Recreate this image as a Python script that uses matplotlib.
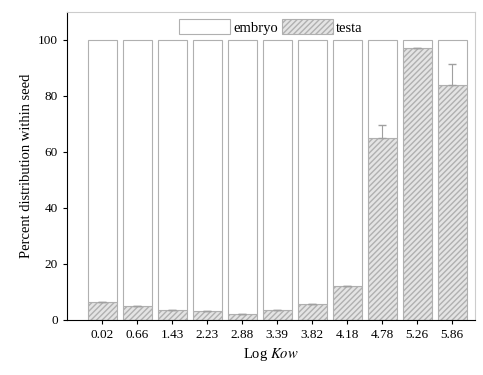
import numpy as np
import matplotlib.pyplot as plt

plt.rcParams['font.family'] = ['Liberation Serif', 'DejaVu Serif']
plt.rcParams['mathtext.fontset'] = 'stix'
plt.rcParams['hatch.color'] = '#b8b8b8'

log_kow = ['0.02', '0.66', '1.43', '2.23', '2.88', '3.39', '3.82', '4.18', '4.78', '5.26', '5.86']
testa = [6.3, 5.0, 3.5, 3.0, 2.0, 3.5, 5.5, 12.0, 65.0, 97.0, 84.0]
testa_err = [0, 0, 0, 0, 0, 0, 0, 0, 4.5, 0, 7.5]
embryo = [100 - t for t in testa]

fig = plt.figure(figsize=(4.83, 3.75), dpi=100)
ax = fig.add_axes([0.139, 0.147, 0.844, 0.821])

x = np.arange(len(log_kow))
w = 0.83
ax.bar(x, testa, w, color='#e4e4e4', edgecolor='#b0b0b0', hatch='//////', linewidth=0.8, label='testa')
ax.bar(x, embryo, w, bottom=testa, color='white', edgecolor='#b0b0b0', linewidth=0.8, label='embryo')
ax.errorbar(x, testa, yerr=[np.zeros(len(x)), testa_err], fmt='none', ecolor='#a0a0a0', capsize=3, elinewidth=0.8)

ax.set_xlim(-1.0, 10.65)
ax.set_ylim(0, 110)
ax.set_yticks([0, 20, 40, 60, 80, 100])
ax.set_xticks(x)
ax.set_xticklabels(log_kow, fontsize=9.5)
ax.tick_params(axis='y', labelsize=9.5, length=3)
ax.tick_params(axis='x', length=3)
ax.set_xlabel('Log $\\it{Kow}$', fontsize=10.5)
ax.set_ylabel('Percent distribution within seed', fontsize=10.5)

for s in ['top', 'right']:
    ax.spines[s].set_color('#cccccc')

h, l = ax.get_legend_handles_labels()
ax.legend(h[::-1], l[::-1], loc='upper center', ncol=2, frameon=False, fontsize=10.5,
          handlelength=3.5, handleheight=1.2, columnspacing=0.3, handletextpad=0.2,
          borderaxespad=0.1)

fig.savefig('out.png', dpi=100)
